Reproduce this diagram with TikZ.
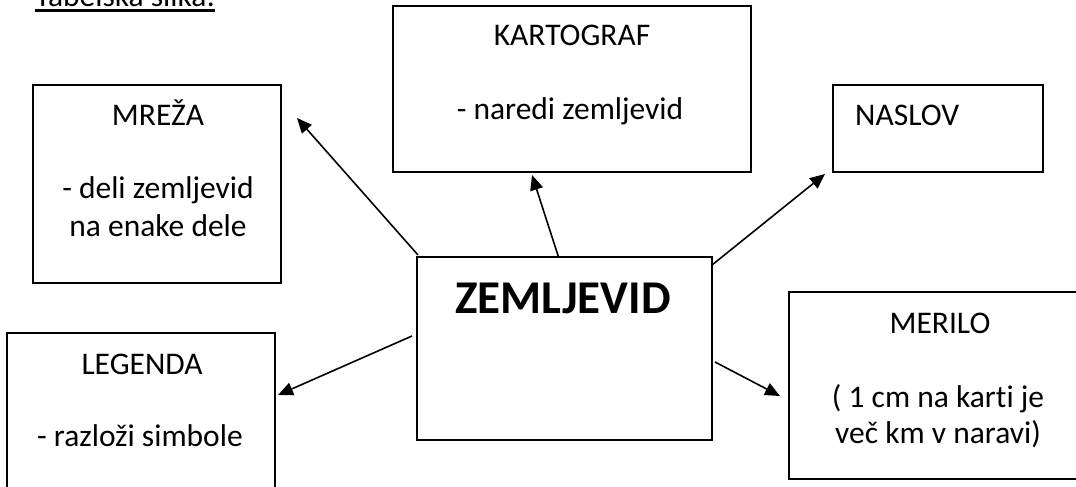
\documentclass[tikz,border=0pt]{standalone}
\usepackage{fontspec}
\setmainfont{Carlito}[RawFeature=-liga]
\usetikzlibrary{arrows.meta,calc}
\tikzset{
  box/.style={draw=black, line width=1.6pt, rectangle, inner sep=0pt, outer sep=0pt, fill=white},
  txt/.style={inner sep=0pt, anchor=base, font=\fontsize{31.5}{38}\selectfont},
  big/.style={inner sep=0pt, anchor=base, font=\fontsize{47}{56}\selectfont\bfseries},
  arr/.style={line width=1.6pt, -{Triangle[length=15pt,width=13pt]}}
}
\begin{document}
\begin{tikzpicture}[x=1pt,y=-1pt]
\useasboundingbox (0,0) rectangle (1076,487);
\clip (0,0) rectangle (1076,487);
\fill[white] (0,0) rectangle (1076,487);

% title
\node[txt, anchor=base west] (title) at (35,7) {Tabelska slika:};
\draw[line width=2.5pt] ([yshift=-3.5pt]title.base west) -- ([yshift=-3.5pt]title.base east);

% boxes
\node[box, minimum width=248pt, minimum height=198pt] (mreza) at (157,184) {};
\node[box, minimum width=358pt, minimum height=166pt] (kart) at (572,89) {};
\node[box, minimum width=210pt, minimum height=87pt] (naslov) at (938,128.5) {};
\node[box, minimum width=295pt, minimum height=183pt] (zem) at (564.5,348.5) {};
\node[box, minimum width=268pt, minimum height=187pt] (legenda) at (141,426.5) {};
\node[box, minimum width=301pt, minimum height=187pt] (merilo) at (939.5,385.5) {};

% texts
\node[txt] (tkart) at (572,46) {KARTOGRAF};
\node[txt] (tkart2) at (570,119) {- naredi zemljevid};
\node[txt] (tmreza) at (158,125) {MREŽA};
\node[txt] (tmreza2) at (158,198) {- deli zemljevid};
\node[txt] (tmreza3) at (158,236) {na enake dele};
\node[txt, anchor=base west] (tnaslov) at (855,125) {NASLOV};
\node[big] (tzem) at (563,313) {ZEMLJEVID};
\node[txt] (tleg) at (142,374) {LEGENDA};
\node[txt] (tleg2) at (140,446) {- razloži simbole};
\node[txt] (tmer) at (940,333) {MERILO};
\node[txt] (tmer2) at (938,407) {( 1 cm na karti je};
\node[txt] (tmer3) at (938,443) {več km v naravi)};

% arrow free ends
\coordinate (eM) at (297,118);
\coordinate (eK) at (532,175);
\coordinate (eN) at (825,174);
\coordinate (eL) at (278,395);
\coordinate (eR) at (780,396);

% connectors
\draw[arr] ([shift={(1,-2)}]zem.north west) -- (eM);
\draw[arr] ([shift={(-6,0)}]zem.north) -- (eK);
\draw[arr] ([shift={(0,8)}]zem.north east) -- (eN);
\draw[arr] ([shift={(-5,-12.5)}]zem.west) -- (eL);
\draw[arr] ([shift={(3,13.5)}]zem.east) -- (eR);
\end{tikzpicture}
\end{document}
